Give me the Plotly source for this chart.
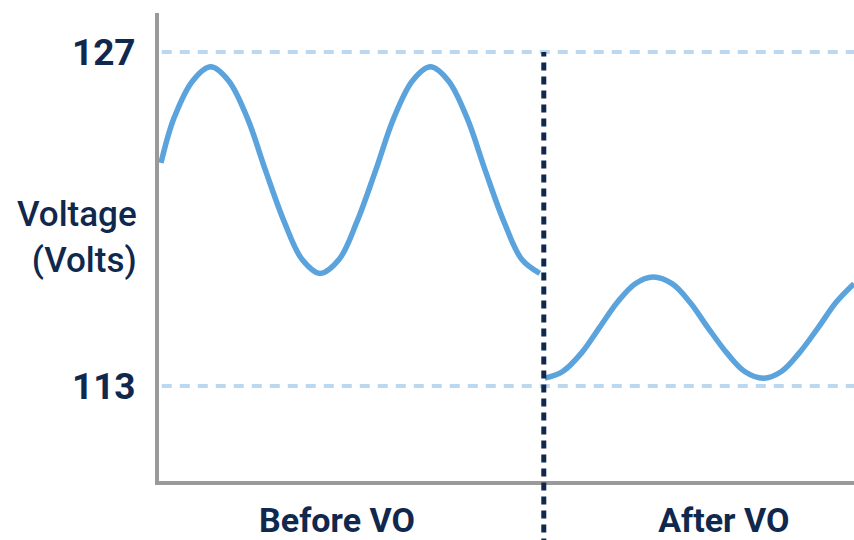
import plotly.graph_objects as go

# Time (arbitrary units) and voltage
t_before = [0, 13, 32, 50, 68, 87, 105, 124, 142, 160, 179, 197, 216, 234, 253,
            271, 289, 308, 326, 345, 363, 381]
v_before = [122.35, 124.22, 125.80, 126.38, 125.80, 124.22, 122.05, 119.88, 118.30,
            117.72, 118.30, 119.88, 122.05, 124.22, 125.80, 126.38, 125.80, 124.22,
            122.05, 119.88, 118.30, 117.72]
t_after = [386, 404, 423, 441, 459, 477, 495, 514, 532, 550, 569, 587, 606, 624,
           642, 661, 679, 697]
v_after = [113.33, 113.61, 114.39, 115.45, 116.51, 117.29, 117.57, 117.29, 116.51,
           115.45, 114.39, 113.61, 113.33, 113.61, 114.39, 115.45, 116.51, 117.29]

vo_time = 385
ref_levels = [113, 127]
ref_labels = ["113", "127"]
section_pos = [177, 566]
section_labels = ["Before VO", "After VO"]

y_range = [109.02, 128.635]
x_range = [-2, 697]

NAVY = "#10284d"
BLUE = "#5ba3dc"
LIGHT = "#bcd8f0"
GRAY = "#9a9a9a"
FONT = "Roboto"

fig = go.Figure()
fig.add_trace(go.Scatter(x=t_before + [None] + t_after,
                         y=v_before + [None] + v_after,
                         mode="lines", line=dict(color=BLUE, width=5.5, shape="spline"),
                         connectgaps=False, hoverinfo="skip", showlegend=False))

shapes = []
for lv in ref_levels:
    shapes.append(dict(type="line", xref="paper", yref="y", x0=0.004, x1=1, y0=lv, y1=lv,
                       line=dict(color=LIGHT, width=4, dash="10px,8px"), layer="below"))
top_paper = (max(ref_levels) - y_range[0]) / (y_range[1] - y_range[0])
shapes.append(dict(type="line", xref="x", yref="paper", x0=vo_time, x1=vo_time,
                   y0=-0.2, y1=top_paper,
                   line=dict(color=NAVY, width=5, dash="8px,6px"), layer="above"))

fig.update_layout(
    width=854, height=540,
    margin=dict(l=159, r=0, t=13, b=59),
    paper_bgcolor="white", plot_bgcolor="white",
    shapes=shapes,
    xaxis=dict(range=x_range, showgrid=False, zeroline=False, showline=True,
               linecolor=GRAY, linewidth=4, ticks="",
               tickvals=section_pos, ticktext=section_labels,
               tickfont=dict(family=FONT, size=34, color=NAVY, weight="bold"),
               ticklabelstandoff=6),
    yaxis=dict(range=y_range, showgrid=False, zeroline=False, showline=True,
               linecolor=GRAY, linewidth=4, ticks="",
               tickvals=ref_levels, ticktext=ref_labels,
               tickfont=dict(family=FONT, size=37, color=NAVY, weight="bold"),
               ticklabelstandoff=12),
    annotations=[dict(text="Voltage<br>(Volts)", xref="paper", yref="y",
                      x=-0.029, y=119.23, xanchor="right", yanchor="middle",
                      align="right", showarrow=False,
                      font=dict(family=FONT, size=35, color=NAVY, weight=500))],
)

# remove the browser's default 8px page margin so the figure fills the window
fig.write_html("out.html",
               config={"displayModeBar": False},
               post_script="document.body.style.margin='0';document.body.style.overflow='hidden';")
